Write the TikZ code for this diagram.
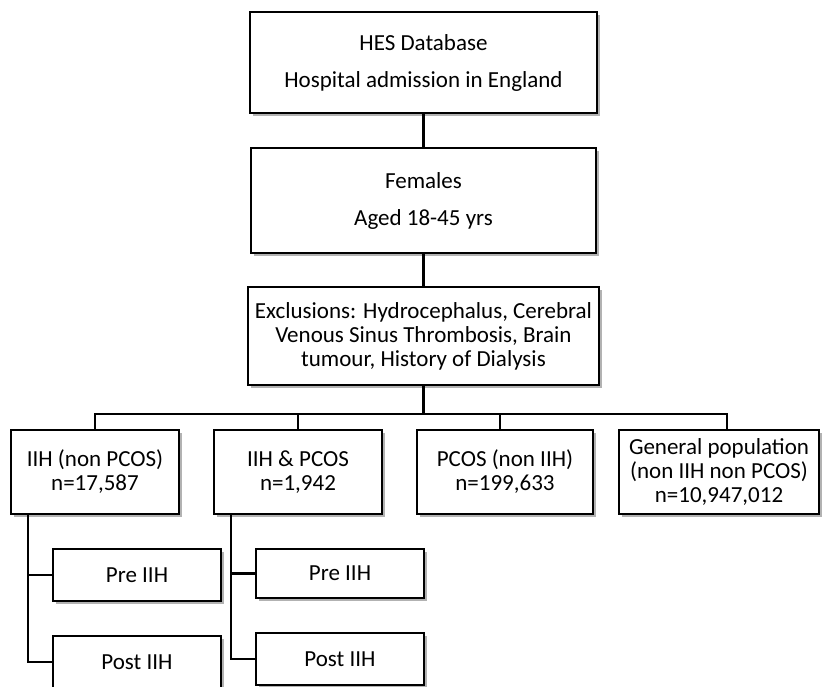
\documentclass[tikz,border=0pt]{standalone}
\usepackage{fontspec}
\setmainfont{Carlito}
\usetikzlibrary{shadows}

\begin{document}
\begin{tikzpicture}[x=1pt, y=-1pt,
		box/.style={draw, line width=1.6pt, fill=white, align=center, inner sep=0pt,
			font=\fontsize{23}{24}\selectfont,
			drop shadow={shadow xshift=2.5pt, shadow yshift=-2.5pt, fill=black, opacity=0.3}},
		conn/.style={line width=2.2pt}]
		\useasboundingbox (0,0) rectangle (825,686);
		\clip (0,0) rectangle (825,686);
		\node[box, minimum width=347, minimum height=101](hes) at (423.5,62.5){HES Database\\[13pt]Hospital admission in England};
		\node[box, minimum width=345, minimum height=105](fem) at (423.5,200.5){Females\\[13pt]Aged 18-45 yrs};
		\node[box, minimum width=351, minimum height=98](excl) at (423.5,336){Exclusions: Hydrocephalus, Cerebral\\Venous Sinus Thrombosis, Brain\\tumour, History of Dialysis};
		\node[box, minimum width=168, minimum height=84](iih) at (95,472){IIH (non PCOS)\\n=17,587};
		\node[box, minimum width=168, minimum height=84](both) at (298,472){IIH \& PCOS\\n=1,942};
		\node[box, minimum width=176, minimum height=84](pcos) at (505,472){PCOS (non IIH)\\n=199,633};
		\node[box, minimum width=200, minimum height=84](gen) at (719,472){General population\\(non IIH non PCOS)\\n=10,947,012};
		\node[box, minimum width=168, minimum height=52](pre1) at (137,575){Pre IIH};
		\node[box, minimum width=168, minimum height=52](post1) at (137,662){Post IIH};
		\node[box, minimum width=168, minimum height=49](pre2) at (340,573.5){Pre IIH};
		\node[box, minimum width=168, minimum height=52](post2) at (340,659){Post IIH};
		\draw[conn] (hes.south) -- (fem.north);
		\draw[conn] (fem.south) -- (excl.north);
		\draw[conn] (excl.south) -- ++(0,28) coordinate (bus);
		\draw[conn] (iih.north) |- (bus) -| ([xshift=8pt]gen.north);
		\draw[conn] (both.north) -- (both.north |- bus);
		\draw[conn] ([xshift=-5pt]pcos.north) -- ([xshift=-5pt]pcos.north |- bus);
		\draw[conn] ([xshift=-67pt]iih.south) coordinate (v1) |- (post1.west);
		\draw[conn] (pre1.west) -- (pre1.west -| v1);
		\draw[conn] ([xshift=-67pt]both.south) coordinate (v2) |- (post2.west);
		\draw[conn] (pre2.west) -- (pre2.west -| v2);
	\end{tikzpicture}
\end{document}
